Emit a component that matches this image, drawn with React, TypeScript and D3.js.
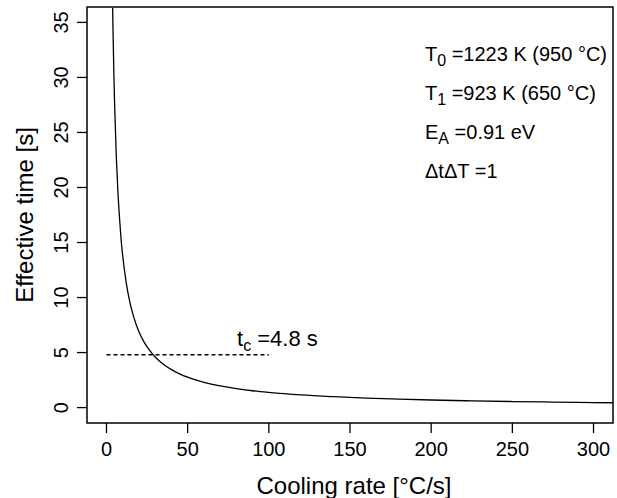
import React from "react";
import * as d3 from "d3";

const rates = [3.8, 4, 4.5, 5, 6, 7, 8, 9, 10, 12, 14, 16, 18, 20, 23, 26, 30, 35, 40, 45, 50, 60, 70, 80, 90, 100, 120, 140, 160, 180, 200, 225, 250, 275, 300, 312];
const times = [36.3, 34.5, 30.7, 27.6, 23.0, 19.7, 17.3, 15.3, 13.8, 11.5, 9.86, 8.63, 7.67, 6.9, 6.0, 5.31, 4.6, 3.94, 3.45, 3.07, 2.76, 2.3, 1.97, 1.73, 1.53, 1.38, 1.15, 0.99, 0.86, 0.77, 0.69, 0.61, 0.55, 0.5, 0.46, 0.44];
const xTicks = [0, 50, 100, 150, 200, 250, 300];
const yTicks = [0, 5, 10, 15, 20, 25, 30, 35];
const tc = 4.8;
const tcRange = [0, 100];

const W = 617, H = 498;
const L = 87, R = 613, T = 7, B = 423;
const FONT = "'Liberation Sans', Arial, Helvetica, sans-serif";

export default function App() {
  const x = d3.scaleLinear().domain([-12, 312]).range([L, R]);
  const y = d3.scaleLinear().domain([-1.4, 36.4]).range([B, T]);
  const pts = rates.map((r, i) => [r, times[i]] as [number, number]);
  const line = d3.line<[number, number]>().x(d => x(d[0])).y(d => y(d[1])).curve(d3.curveMonotoneX);
  const fs = 20;
  const anno = [
    { main: "T", sub: "0", rest: " =1223 K (950 °C)" },
    { main: "T", sub: "1", rest: " =923 K (650 °C)" },
    { main: "E", sub: "A", rest: " =0.91 eV" },
    { main: "ΔtΔT", sub: "", rest: " =1" },
  ];
  return (
    <svg width={W} height={H} style={{ position: "absolute", left: 0, top: 0, background: "#fff" }} fontFamily={FONT}>
      <defs>
        <clipPath id="clip"><rect x={L} y={T} width={R - L} height={B - T} /></clipPath>
      </defs>
      <rect x={0} y={0} width={W} height={H} fill="#fff" />
      <path d={line(pts) || ""} fill="none" stroke="#000" strokeWidth={1.3} clipPath="url(#clip)" />
      <line x1={x(tcRange[0])} x2={x(tcRange[1])} y1={y(tc)} y2={y(tc)} stroke="#000" strokeWidth={1.3} strokeDasharray="4,3" />
      <text x={237} y={346} fontSize={22} fill="#000">
        t<tspan fontSize={16} dy={5}>c</tspan><tspan dy={-5}> =4.8 s</tspan>
      </text>
      <rect x={L} y={T} width={R - L} height={B - T} fill="none" stroke="#000" strokeWidth={1.5} />
      {xTicks.map(t => (
        <g key={"x" + t}>
          <line x1={x(t)} x2={x(t)} y1={B} y2={B + 10} stroke="#000" strokeWidth={1.3} />
          <text x={x(t)} y={B + 33} textAnchor="middle" fontSize={fs}>{t}</text>
        </g>
      ))}
      {yTicks.map(t => (
        <g key={"y" + t}>
          <line x1={L - 10} x2={L} y1={y(t)} y2={y(t)} stroke="#000" strokeWidth={1.3} />
          <text transform={`translate(${L - 19},${y(t)}) rotate(-90)`} textAnchor="middle" fontSize={fs}>{t}</text>
        </g>
      ))}
      <text x={354} y={494} textAnchor="middle" fontSize={24}>Cooling rate [°C/s]</text>
      <text transform={`translate(33,${(T + B) / 2}) rotate(-90)`} textAnchor="middle" fontSize={24}>Effective time [s]</text>
      {anno.map((a, i) => (
        <text key={i} x={425} y={61 + i * 39} fontSize={fs}>
          {a.main}
          {a.sub ? <tspan fontSize={16} dy={5}>{a.sub}</tspan> : null}
          <tspan dy={a.sub ? -5 : 0}>{a.rest}</tspan>
        </text>
      ))}
    </svg>
  );
}
